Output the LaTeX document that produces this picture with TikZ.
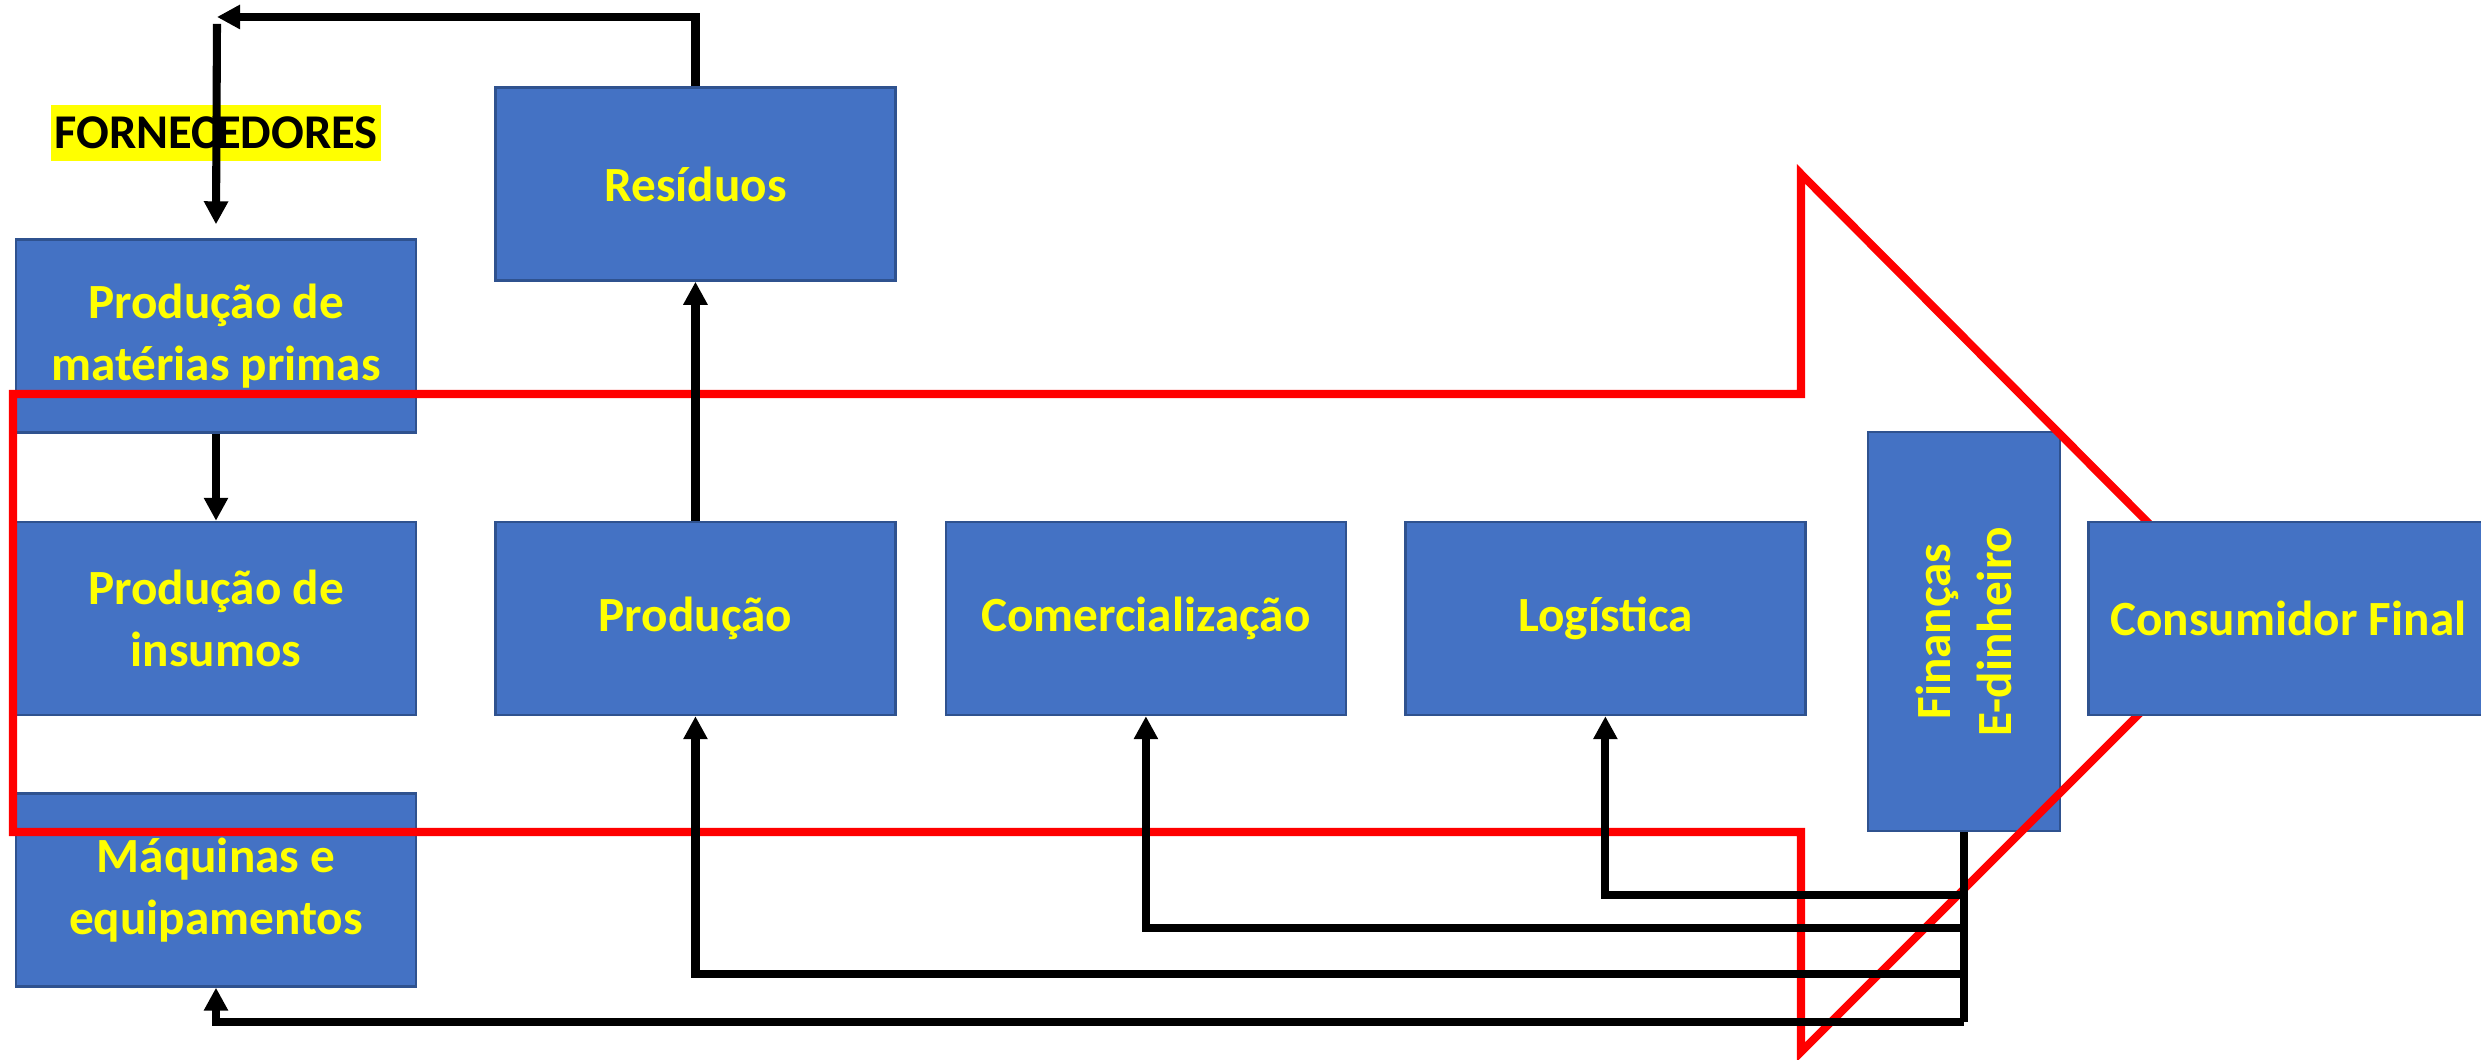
\documentclass[tikz,border=0pt]{standalone}
\usepackage{fontspec}
\setmainfont{Carlito}
\usepackage{tikz}
\usetikzlibrary{shapes,arrows.meta,positioning,calc}
\definecolor{boxblue}{HTML}{4472C4}
\definecolor{boxborder}{HTML}{2F528F}
\definecolor{arrowred}{HTML}{FF0000}
\definecolor{marker}{HTML}{FFFF00}

\begin{document}
\begin{tikzpicture}[>={Triangle[length=0.23cm,width=0.23cm]},node distance=.5cm,
	box/.style={draw=boxborder, line width=0.7pt, fill=boxblue, text=marker, align=center, minimum width=4cm, minimum height=1.93cm, font=\fontsize{14}{17.6}\selectfont\bfseries},
	flow/.style={->, line width=2.3pt, black},
	link/.style={line width=2.3pt, black}]
			\useasboundingbox (0,0) rectangle (24.81,10.6);
			
			\node[box] (insumos) at (2.16,4.415) {Produção de\\insumos};
			\node[box] (materias) [above=0.87cm of insumos] {Produção de\\matérias primas};
			\node[box] (maquinas) [below=0.76cm of insumos] {Máquinas e\\equipamentos};
			\node[fill=marker, text=black, inner xsep=1pt, minimum height=0.52cm, font=\fontsize{13.8}{17}\selectfont\bfseries] (fornecedores) [above=0.77cm of materias] {FORNECEDORES};
			
			\node[box] (producao) [right=0.77cm of insumos] {Produção};
			\node[box] (residuos) [above=2.39cm of producao] {Resíduos};
			\node[box] (comercio) [right=0.48cm of producao] {Comercialização};
			\node[box] (logistica) [right=0.57cm of comercio] {Logística};
			\node[box, minimum width=1.92cm, minimum height=3.99cm] (financas) [right=0.6cm of logistica, yshift=-0.13cm] {};
			\node[rotate=90, text=marker, align=center, font=\fontsize{14}{17.6}\selectfont\bfseries] (financastexto) at (financas) {Finanças\\E-dinheiro};
			
			% seta vermelha da cadeia
			\draw[arrowred, line width=2.3pt, line join=miter]
			(0.13,6.66) -- (18.01,6.66) -- (18.01,8.86) -- (22.39,4.46)
			-- (18.01,0.08) -- (18.01,2.28) -- (0.13,2.28) -- cycle;
			
			\node[box] (consumidor) [right=0.26cm of financas, yshift=0.13cm] {Consumidor Final};
			
			\coordinate (retorno) at (2.17,10.43);
			\coordinate (m1) at ($(financas.south)+(0,-0.63)$);
			\coordinate (m2) at ($(financas.south)+(0,-0.96)$);
			\coordinate (m3) at ($(financas.south)+(0,-1.42)$);
			\coordinate (m4) at ($(financas.south)+(0,-1.90)$);
			
			\draw[flow] (materias) -- (insumos);
			\draw[flow] (producao) -- (residuos);
			\draw[flow] (residuos) |- (retorno);
			\draw[flow] ([yshift=-0.07cm]retorno) -- ([yshift=0.14cm]materias.north);
			
			\draw[link] (financas.south) -- (m4);
			\draw[flow] (m1) -| (logistica);
			\draw[flow] (m2) -| (comercio);
			\draw[flow] (m3) -| (producao);
			\draw[flow] (m4) -| (maquinas);
			
\end{tikzpicture}
\end{document}
